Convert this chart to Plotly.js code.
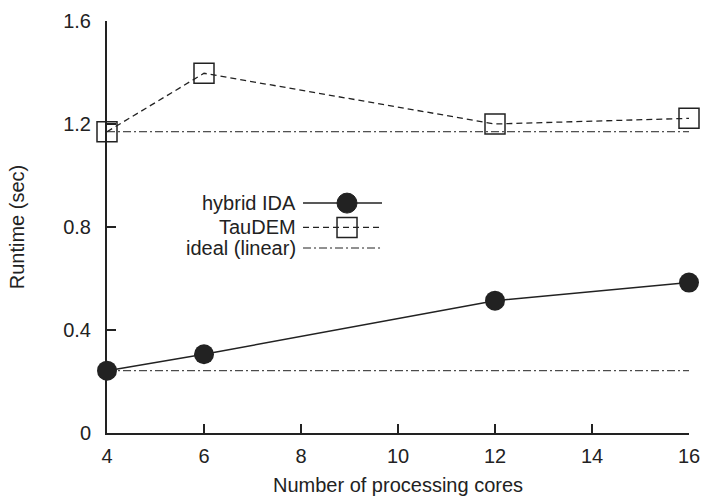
<!DOCTYPE html>
<html>
<head>
<meta charset="utf-8">
<script src="https://cdn.plot.ly/plotly-3.0.1.min.js"></script>
<style>html,body{margin:0;padding:0;background:#fff}#chart{width:704px;height:498px}</style>
</head>
<body>
<div id="chart"></div>
<script>
// Data
const cores = [4, 6, 12, 16];
const hybridIDA = [0.242, 0.306, 0.514, 0.584];
const tauDEM = [1.170, 1.397, 1.200, 1.222];
const idealX = [4, 16];
const idealHybrid = [0.242, 0.242];
const idealTauDEM = [1.170, 1.170];
const xTicks = [4, 6, 8, 10, 12, 14, 16];
const yTicks = [0, 0.4, 0.8, 1.2, 1.6];
const yTickText = ['0', '0.4', '0.8', '1.2', '1.6'];
const legendNames = ['hybrid IDA', 'TauDEM', 'ideal (linear)'];

const ink = '#222222';
const FONT = 'Liberation Sans, Arial, Helvetica, sans-serif';
const FS = 20;

const traces = [
  {x: idealX, y: idealHybrid, mode: 'lines', name: legendNames[2], showlegend: false,
   line: {color: ink, width: 1, dash: '8px,3px,2px,3px'}, hoverinfo: 'skip'},
  {x: idealX, y: idealTauDEM, mode: 'lines', name: legendNames[2], showlegend: false,
   line: {color: ink, width: 1, dash: '8px,3px,2px,3px'}, hoverinfo: 'skip'},
  {x: cores, y: tauDEM, mode: 'lines+markers', name: legendNames[1], showlegend: false,
   line: {color: ink, width: 1.3, dash: '6px,4px'},
   marker: {symbol: 'square-open', size: 20, color: ink, line: {width: 1.5, color: ink}},
   cliponaxis: false},
  {x: cores, y: hybridIDA, mode: 'lines+markers', name: legendNames[0], showlegend: false,
   line: {color: ink, width: 1.5},
   marker: {symbol: 'circle', size: 20, color: ink},
   cliponaxis: false}
];

// Legend drawn with shapes/annotations (text on the left of the sample)
const lgX0 = 0.3368, lgX1 = 0.4725, lgXc = 0.4124, lgTx = 0.3275;
const lgY = [0.558, 0.499, 0.449];
const shapes = [
  {type: 'line', xref: 'paper', yref: 'paper', x0: lgX0, x1: lgX1, y0: lgY[0], y1: lgY[0], line: {color: ink, width: 1.5}},
  {type: 'circle', xref: 'paper', yref: 'paper', xsizemode: 'pixel', ysizemode: 'pixel', xanchor: lgXc, yanchor: lgY[0],
   x0: -10, x1: 10, y0: -10, y1: 10, fillcolor: ink, line: {color: ink, width: 1}},
  {type: 'line', xref: 'paper', yref: 'paper', x0: lgX0, x1: lgX1, y0: lgY[1], y1: lgY[1], line: {color: ink, width: 1.3, dash: '6px,4px'}},
  {type: 'rect', xref: 'paper', yref: 'paper', xsizemode: 'pixel', ysizemode: 'pixel', xanchor: lgXc, yanchor: lgY[1],
   x0: -10, x1: 10, y0: -10, y1: 10, fillcolor: 'rgba(0,0,0,0)', line: {color: ink, width: 1.5}},
  {type: 'line', xref: 'paper', yref: 'paper', x0: lgX0, x1: lgX1, y0: lgY[2], y1: lgY[2], line: {color: ink, width: 1, dash: '8px,3px,2px,3px'}}
];
const annotations = legendNames.map((t, i) => ({
  text: t, xref: 'paper', yref: 'paper', x: lgTx, y: lgY[i], xanchor: 'right', yanchor: 'middle',
  showarrow: false, font: {family: FONT, size: FS, color: ink}
}));

const layout = {
  width: 704, height: 498,
  margin: {l: 107, r: 15, t: 21, b: 65},
  paper_bgcolor: '#fff', plot_bgcolor: '#fff',
  showlegend: false,
  font: {family: FONT, size: FS, color: ink},
  xaxis: {
    range: [4, 16], tickvals: xTicks, ticktext: xTicks.map(String),
    ticks: 'inside', ticklen: 9, tickwidth: 1.5, tickcolor: ink,
    showline: true, linecolor: ink, linewidth: 2, showgrid: false, zeroline: false,
    ticklabelstandoff: 4,
    tickfont: {family: FONT, size: FS, color: ink},
    title: {text: 'Number of processing cores', font: {family: FONT, size: FS, color: ink}, standoff: 12}
  },
  yaxis: {
    range: [0, 1.6], tickvals: yTicks, ticktext: yTickText,
    ticks: 'inside', ticklen: 9, tickwidth: 1.5, tickcolor: ink,
    showline: true, linecolor: ink, linewidth: 2, showgrid: false, zeroline: false,
    ticklabelstandoff: 10,
    tickfont: {family: FONT, size: FS, color: ink},
    title: {text: 'Runtime (sec)', font: {family: FONT, size: FS, color: ink}, standoff: 33}
  },
  shapes: shapes,
  annotations: annotations
};

Plotly.newPlot('chart', traces, layout, {displayModeBar: false, staticPlot: true});
</script>
</body>
</html>
